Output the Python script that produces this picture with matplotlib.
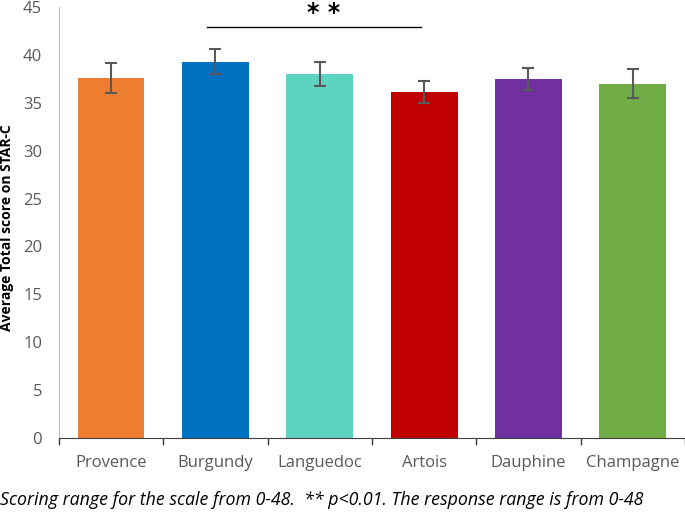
import matplotlib.pyplot as plt
import numpy as np

# data
regions = ["Provence", "Burgundy", "Languedoc", "Artois", "Dauphine", "Champagne"]
scores = [37.6, 39.3, 38.0, 36.1, 37.5, 37.0]
errors = [1.55, 1.3, 1.25, 1.15, 1.1, 1.5]
colors = ["#ED7D31", "#0070C0", "#5DD3C2", "#C00000", "#7030A0", "#70AD47"]
yticks = [0, 5, 10, 15, 20, 25, 30, 35, 40, 45]
sig_pair = (1, 3)   # Burgundy vs Artois
sig_level = 42.9

plt.rcParams.update({
    'font.family': ['Open Sans', 'DejaVu Sans'],
    'font.size': 11,
})

fig = plt.figure(figsize=(6.85, 5.17), dpi=100)
ax = fig.add_axes([0.086, 0.153, 0.914, 0.833])

x = np.arange(len(regions))
ax.bar(x, scores, width=0.64, color=colors, zorder=2)
ax.errorbar(x, scores, yerr=errors, fmt='none', ecolor='#595959',
            elinewidth=1.5, capsize=4, capthick=1.5, zorder=3)

# significance bracket
ax.plot([sig_pair[0] - 0.08, sig_pair[1] - 0.03], [sig_level, sig_level],
        color='black', lw=1)
ax.text(2.04, 44.4, "* *", ha='center', va='center',
        fontsize=17, fontweight='bold', family='DejaVu Sans', clip_on=False)

ax.set_xlim(-0.5, len(regions) - 0.5)
ax.set_ylim(0, 45)
ax.set_yticks(yticks)
ax.set_xticks(x)
ax.set_xticklabels(regions)
ax.set_xticks(np.arange(-0.5, len(regions), 1.0), minor=True)
ax.tick_params(axis='x', which='major', length=0, pad=12, colors='#595959',
               labelsize=12)
ax.tick_params(axis='x', which='minor', length=5, width=1, color='#404040')
ax.tick_params(axis='y', length=0, pad=12, colors='#595959', labelsize=12)

for side in ['top', 'right']:
    ax.spines[side].set_visible(False)
ax.spines['left'].set_color('#BFBFBF')
ax.spines['left'].set_linewidth(0.8)
ax.spines['bottom'].set_color('#404040')

ax.set_ylabel("Average Total score on STAR-C", fontweight='bold', fontsize=10)
ax.yaxis.set_label_coords(-0.072, 0.487)

fig.text(0.0, 0.033, "Scoring range for the scale from 0-48.  ** p<0.01. The response range is from 0-48",
         fontstyle='italic', fontsize=12.8, ha='left', va='center')

fig.savefig("out.png", dpi=100)
